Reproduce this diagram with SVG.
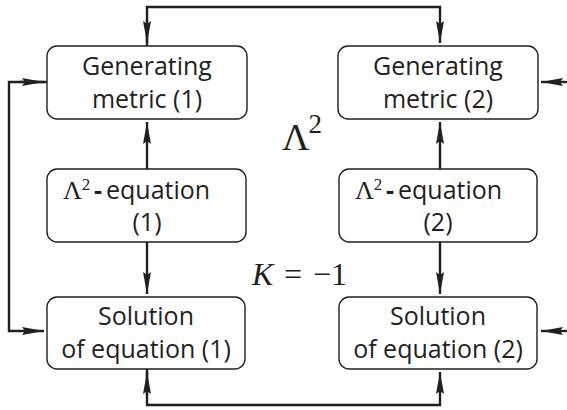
<svg xmlns="http://www.w3.org/2000/svg" width="567" height="410" viewBox="0 0 567 410">
<defs>
<style>
.box{fill:#fff;stroke:#231f20;stroke-width:1.4}
.lbl{font-family:"Open Sans","Noto Sans",sans-serif;font-size:25px;fill:#231f20;text-anchor:middle}
.eqn{font-family:"Open Sans","Noto Sans",sans-serif;font-size:25px;fill:#231f20}
.math{font-family:"Liberation Serif","DejaVu Serif",serif;fill:#231f20}
.con{fill:none;stroke:#231f20;stroke-width:2.4}
</style>
<marker id="ah" markerUnits="userSpaceOnUse" markerWidth="24" markerHeight="10" refX="22" refY="4" orient="auto">
<path d="M0,0 L22,4 L0,8 L3,4 z" fill="#231f20"/>
</marker>
</defs>
<g id="connectors">
<polyline class="con" points="147,46 147,7 440,7 440,43" marker-end="url(#ah)"/>
<line class="con" x1="147" y1="20" x2="147" y2="43" marker-end="url(#ah)"/>
<polyline class="con" points="147,369 147,405 440,405 440,372" marker-end="url(#ah)"/>
<line class="con" x1="147" y1="395" x2="147" y2="372" marker-end="url(#ah)"/>
<polyline class="con" points="47,82 9,82 9,331 44,331" marker-end="url(#ah)"/>
<line class="con" x1="20" y1="82" x2="44" y2="82" marker-end="url(#ah)"/>
<line class="con" x1="567" y1="82" x2="541" y2="82" marker-end="url(#ah)"/>
<line class="con" x1="567" y1="331" x2="541" y2="331" marker-end="url(#ah)"/>
<line class="con" x1="147" y1="169" x2="147" y2="122" marker-end="url(#ah)"/>
<line class="con" x1="147" y1="242" x2="147" y2="294" marker-end="url(#ah)"/>
<line class="con" x1="440" y1="169" x2="440" y2="122" marker-end="url(#ah)"/>
<line class="con" x1="440" y1="242" x2="440" y2="294" marker-end="url(#ah)"/>
</g>
<g id="gen1">
<rect class="box" x="47" y="46" width="200" height="73" rx="10"/>
<text class="lbl" x="147" y="75">Generating</text>
<text class="lbl" x="147" y="108">metric (1)</text>
</g>
<g id="gen2">
<rect class="box" x="338" y="46" width="200" height="73" rx="10"/>
<text class="lbl" x="438" y="75">Generating</text>
<text class="lbl" x="438" y="108">metric (2)</text>
</g>
<g id="eq1">
<rect class="box" x="47" y="169" width="199" height="73" rx="10"/>
<text class="eqn" x="63" y="199"><tspan class="math" font-size="26">Λ</tspan><tspan class="math" font-size="17" dy="-9">2</tspan><tspan x="94" dy="9" font-weight="bold">-</tspan><tspan x="106">equation</tspan></text>
<text class="lbl" x="147" y="231">(1)</text>
</g>
<g id="eq2">
<rect class="box" x="339" y="169" width="198" height="73" rx="10"/>
<text class="eqn" x="355" y="199"><tspan class="math" font-size="26">Λ</tspan><tspan class="math" font-size="17" dy="-9">2</tspan><tspan x="386" dy="9" font-weight="bold">-</tspan><tspan x="398">equation</tspan></text>
<text class="lbl" x="438" y="231">(2)</text>
</g>
<g id="sol1">
<rect class="box" x="47" y="297" width="198" height="72" rx="10"/>
<text class="lbl" x="146" y="325">Solution</text>
<text class="lbl" x="146" y="358">of equation (1)</text>
</g>
<g id="sol2">
<rect class="box" x="339" y="297" width="198" height="72" rx="10"/>
<text class="lbl" x="438" y="325">Solution</text>
<text class="lbl" x="438" y="358">of equation (2)</text>
</g>
<g id="labels">
<text class="math" x="282" y="150" font-size="38">Λ<tspan font-size="27" dx="-1" dy="-17">2</tspan></text>
<text class="math" x="252" y="285" font-size="32"><tspan font-style="italic">K</tspan><tspan x="284">=</tspan><tspan x="313">−1</tspan></text>
</g>
</svg>
